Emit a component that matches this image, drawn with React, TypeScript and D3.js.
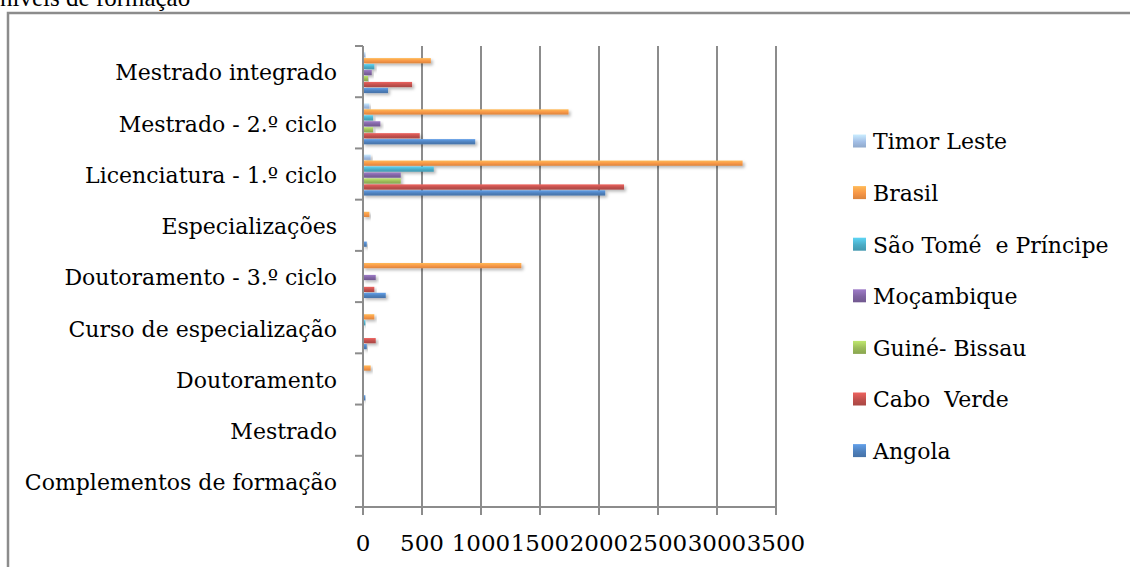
import * as d3 from 'd3';

const categories = [
  'Mestrado integrado',
  'Mestrado - 2.º ciclo',
  'Licenciatura - 1.º ciclo',
  'Especializações',
  'Doutoramento - 3.º ciclo',
  'Curso de especialização',
  'Doutoramento',
  'Mestrado',
  'Complementos de formação',
];

// series in legend order (top to bottom), same order as bars inside each group
const seriesNames = ['Timor Leste', 'Brasil', 'São Tomé  e Príncipe', 'Moçambique', 'Guiné- Bissau', 'Cabo  Verde', 'Angola'];
const timorLeste = [20, 54, 65, 0, 0, 0, 0, 0, 0];
const brasil = [575, 1742, 3217, 54, 1342, 96, 65, 4, 2];
const saoTome = [96, 85, 600, 0, 0, 20, 0, 0, 0];
const mocambique = [74, 147, 320, 0, 108, 0, 0, 0, 0];
const guineBissau = [42, 85, 320, 0, 0, 0, 0, 0, 0];
const caboVerde = [416, 481, 2212, 0, 96, 108, 0, 0, 0];
const angola = [212, 951, 2053, 32, 193, 32, 20, 3, 2];
const seriesValues = [timorLeste, brasil, saoTome, mocambique, guineBissau, caboVerde, angola];
const seriesColors = ['#a3bfe6', '#f79646', '#4bacc6', '#8064a2', '#9bbb59', '#c0504d', '#4f81bd'];

const xTicks = [0, 500, 1000, 1500, 2000, 2500, 3000, 3500];

const WIDTH = 1130;
const HEIGHT = 567;
const plot = { left: 363, right: 776, top: 46, bottom: 507 };
const FONT = '"DejaVu Serif", serif';
const AXIS = '#8c8c8c';

export default function App() {
  const x = d3.scaleLinear().domain([0, 3500]).range([plot.left, plot.right]);
  const y = d3.scaleBand<string>().domain(categories).range([plot.top, plot.bottom]).padding(0);
  const band = y.bandwidth();
  const inner = d3.scaleBand<string>()
    .domain(seriesNames)
    .range([band * 0.12, band * 0.92])
    .paddingInner(0.12);
  const boundaries = d3.range(categories.length + 1).map((i) => plot.top + i * band);

  return (
    <svg width={WIDTH} height={HEIGHT} style={{ position: 'absolute', left: 0, top: 0, background: '#fff' }}>
      <defs>
        {seriesColors.map((color, i) => (
          <linearGradient key={i} id={`grad-${i}`} x1="0" y1="0" x2="0" y2="1">
            <stop offset="0%" stopColor={d3.color(color)!.brighter(0.6).formatHex()} />
            <stop offset="55%" stopColor={color} />
            <stop offset="100%" stopColor={d3.color(color)!.darker(0.35).formatHex()} />
          </linearGradient>
        ))}
        <filter id="shadow" x="-10%" y="-50%" width="130%" height="250%">
          <feDropShadow dx="2" dy="2" stdDeviation="1.6" floodColor="#000" floodOpacity="0.28" />
        </filter>
      </defs>

      <text x={0} y={6} fontFamily='"Liberation Serif", serif' fontSize={25} fill="#000">níveis de formação</text>
      <path d={`M8,${HEIGHT} L8,13 L${WIDTH},13`} fill="none" stroke={AXIS} strokeWidth={2.5} />

      {/* vertical grid lines */}
      {xTicks.slice(1).map((t) => (
        <line key={`g-${t}`} x1={x(t)} x2={x(t)} y1={plot.top} y2={plot.bottom + 8} stroke={AXIS} strokeWidth={2} />
      ))}
      {xTicks.map((t) => (
        <g key={`x-${t}`}>
          <line x1={x(t)} x2={x(t)} y1={plot.bottom} y2={plot.bottom + 8} stroke={AXIS} strokeWidth={2} />
          <text x={x(t)} y={551} textAnchor="middle" fontFamily={FONT} fontSize={23} fill="#000">{t}</text>
        </g>
      ))}

      {/* bars */}
      {categories.map((cat, ci) => (
        <g key={cat} transform={`translate(0,${y(cat)})`}>
          {seriesNames.map((name, si) => {
            const v = seriesValues[si][ci];
            if (!v) return null;
            return (
              <rect
                key={name}
                x={x(0)}
                y={inner(name)}
                width={x(v) - x(0)}
                height={inner.bandwidth()}
                fill={`url(#grad-${si})`}
                filter="url(#shadow)"
              />
            );
          })}
        </g>
      ))}

      {/* axes */}
      <line x1={plot.left} x2={plot.left} y1={plot.top} y2={plot.bottom} stroke={AXIS} strokeWidth={2} />
      <line x1={plot.left - 8} x2={plot.right} y1={plot.bottom} y2={plot.bottom} stroke={AXIS} strokeWidth={2} />
      {boundaries.map((b, i) => (
        <line key={`yt-${i}`} x1={plot.left - 8} x2={plot.left} y1={b} y2={b} stroke={AXIS} strokeWidth={2} />
      ))}
      {categories.map((cat) => (
        <text
          key={`l-${cat}`}
          x={337}
          y={(y(cat) ?? 0) + band / 2}
          dy="0.4em"
          textAnchor="end"
          fontFamily={FONT}
          fontSize={22}
          fill="#000"
        >
          {cat}
        </text>
      ))}

      {/* legend */}
      {seriesNames.map((name, si) => {
        const cy = 141 + si * 51.6;
        return (
          <g key={`lg-${name}`}>
            <rect x={853} y={cy - 6.5} width={13} height={13} fill={`url(#grad-${si})`} />
            <text x={873} y={cy} dy="0.38em" fontFamily={FONT} fontSize={22} fill="#000" style={{ whiteSpace: 'pre' }}>{name}</text>
          </g>
        );
      })}
    </svg>
  );
}
